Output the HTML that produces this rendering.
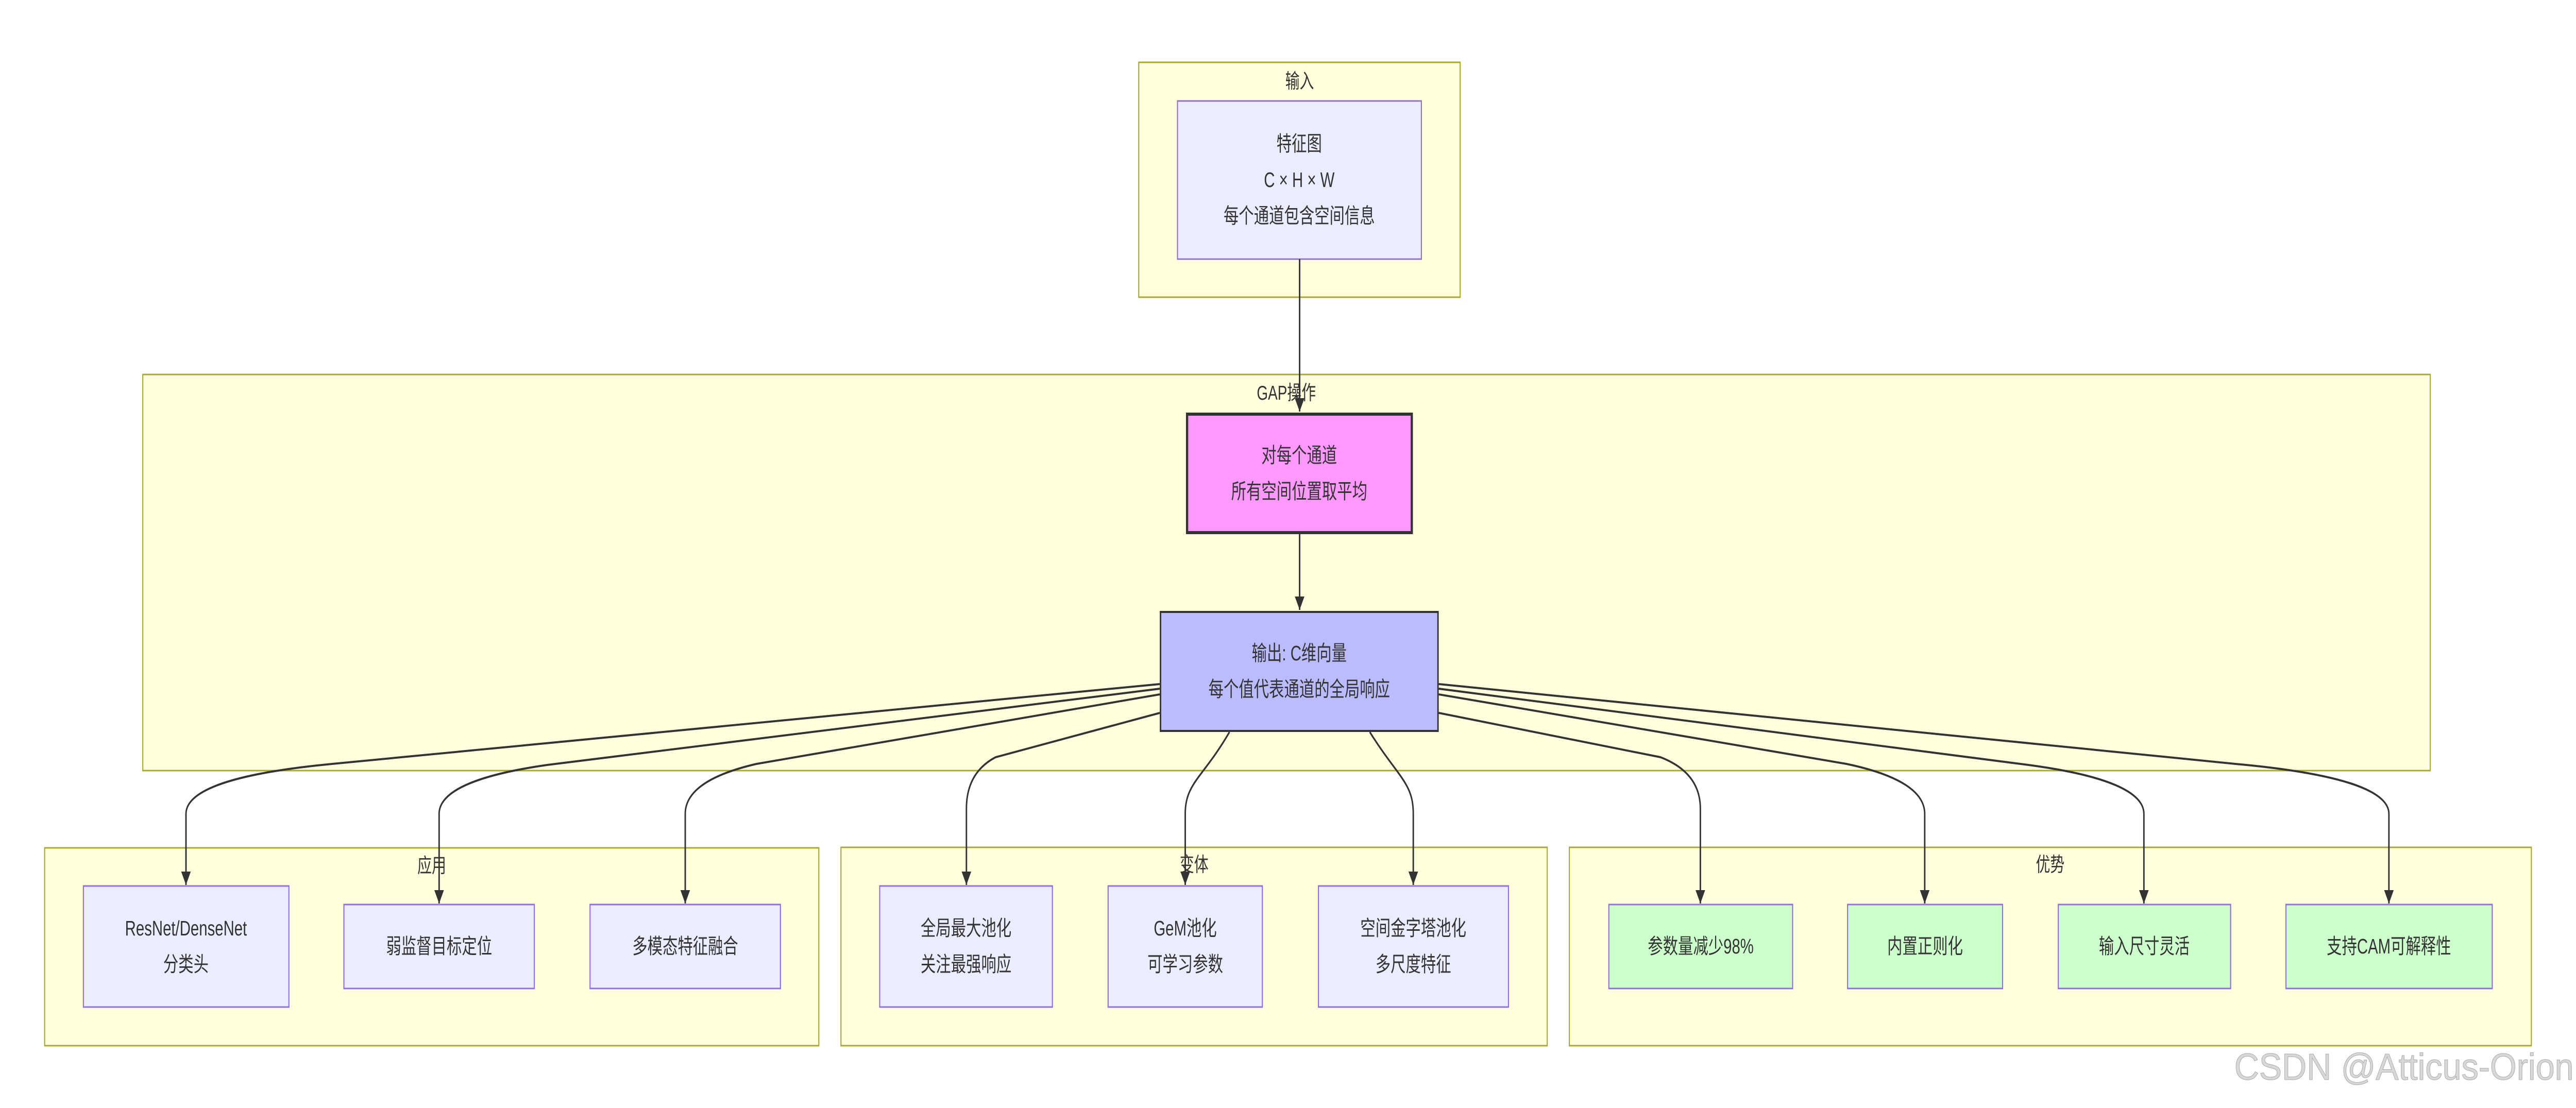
<!DOCTYPE html>
<html><head><meta charset="utf-8">
<style>
html,body{margin:0;padding:0;background:#fff;overflow:hidden;}
svg{display:block;width:100vw;height:100vh;}
text{font-family:"Liberation Sans","Noto Sans CJK SC",sans-serif;fill:#333;text-anchor:middle;}
.t{font-size:41px;}
.l{font-size:39px;}
.c{fill:#ffffde;stroke:#aaaa33;stroke-width:3;}
.n{fill:#ececff;stroke:#9370db;stroke-width:3;}
.g{fill:#ccffcc;stroke:#9370db;stroke-width:3;}
</style></head><body>
<svg viewBox="0 0 6981 2151" preserveAspectRatio="none" xmlns="http://www.w3.org/2000/svg">
<defs><marker id="b" viewBox="0 0 10 10" refX="10" refY="5" markerWidth="26" markerHeight="26" markerUnits="userSpaceOnUse" orient="auto"><path d="M0,0 L10,5 L0,10 z" fill="#333"/></marker></defs>
<rect x="0" y="0" width="6981" height="2151" fill="#fff"/>
<rect class="c" x="3086" y="121" width="871" height="456"/>
<rect class="c" x="387" y="727" width="6199" height="769"/>
<rect class="c" x="121" y="1646" width="2098" height="384"/>
<rect class="c" x="2279" y="1645" width="1914" height="385"/>
<rect class="c" x="4253" y="1645" width="2607" height="385"/>

<text class="l" x="3522" y="171">输入</text>
<text class="l" x="3486" y="776">GAP操作</text>
<text class="l" x="1170" y="1694">应用</text>
<text class="l" x="3236" y="1692">变体</text>
<text class="l" x="5556" y="1692">优势</text>

<rect class="n" x="3191" y="196" width="661" height="307"/>
<text class="t" x="3521" y="293">特征图</text>
<text class="t" x="3521" y="363">C × H × W</text>
<text class="t" x="3521" y="433">每个通道包含空间信息</text>

<rect x="3217" y="804" width="609" height="230" fill="#ff99ff" stroke="#333" stroke-width="6"/>
<text class="t" x="3521" y="898">对每个通道</text>
<text class="t" x="3521" y="968">所有空间位置取平均</text>

<rect x="3145" y="1188" width="752" height="231" fill="#bbbbff" stroke="#333" stroke-width="4"/>
<text class="t" x="3521" y="1282">输出: C维向量</text>
<text class="t" x="3521" y="1352">每个值代表通道的全局响应</text>

<rect class="n" x="226" y="1720" width="557" height="235"/>
<text class="t" x="504" y="1816">ResNet/DenseNet</text>
<text class="t" x="504" y="1886">分类头</text>
<rect class="n" x="932" y="1756" width="516" height="163"/>
<text class="t" x="1190" y="1851">弱监督目标定位</text>
<rect class="n" x="1599" y="1756" width="516" height="163"/>
<text class="t" x="1857" y="1851">多模态特征融合</text>

<rect class="n" x="2384" y="1720" width="468" height="235"/>
<text class="t" x="2618" y="1816">全局最大池化</text>
<text class="t" x="2618" y="1886">关注最强响应</text>
<rect class="n" x="3003" y="1720" width="418" height="235"/>
<text class="t" x="3212" y="1816">GeM池化</text>
<text class="t" x="3212" y="1886">可学习参数</text>
<rect class="n" x="3573" y="1720" width="515" height="235"/>
<text class="t" x="3830" y="1816">空间金字塔池化</text>
<text class="t" x="3830" y="1886">多尺度特征</text>

<rect class="g" x="4360" y="1756" width="498" height="163"/>
<text class="t" x="4609" y="1851">参数量减少98%</text>
<rect class="g" x="5007" y="1756" width="420" height="163"/>
<text class="t" x="5217" y="1851">内置正则化</text>
<rect class="g" x="5578" y="1756" width="467" height="163"/>
<text class="t" x="5811" y="1851">输入尺寸灵活</text>
<rect class="g" x="6195" y="1756" width="559" height="163"/>
<text class="t" x="6474" y="1851">支持CAM可解释性</text>

<g fill="none" stroke="#333" stroke-width="4">
<path d="M3522,503 L3522,799" marker-end="url(#b)"/>
<path d="M3522,1037 L3522,1184" marker-end="url(#b)"/>
<path d="M3143,1328 L900,1483 Q504,1510 504,1580 L504,1718" marker-end="url(#b)"/>
<path d="M3143,1337 L1483,1485 Q1190,1515 1190,1580 L1190,1754" marker-end="url(#b)"/>
<path d="M3143,1348 L2050,1483 Q1857,1515 1857,1580 L1857,1754" marker-end="url(#b)"/>
<path d="M3143,1384 L2698,1470 Q2619,1500 2619,1570 L2619,1718" marker-end="url(#b)"/>
<path d="M3332,1421 C3260,1510 3212,1520 3212,1580 L3212,1718" marker-end="url(#b)"/>
<path d="M3712,1421 C3790,1510 3830,1520 3830,1580 L3830,1718" marker-end="url(#b)"/>
<path d="M3899,1384 L4500,1470 Q4608,1500 4608,1570 L4608,1754" marker-end="url(#b)"/>
<path d="M3899,1348 L5004,1483 Q5216,1515 5216,1580 L5216,1754" marker-end="url(#b)"/>
<path d="M3899,1337 L5497,1485 Q5810,1515 5810,1580 L5810,1754" marker-end="url(#b)"/>
<path d="M3899,1328 L6058,1483 Q6474,1510 6474,1580 L6474,1754" marker-end="url(#b)"/>
</g>
<text x="6515" y="2096" style="font-size:72px;fill:#d8d8d8;stroke:#aaa;stroke-width:1;" textLength="920" lengthAdjust="spacingAndGlyphs">CSDN @Atticus-Orion</text>
</svg>
</body></html>
